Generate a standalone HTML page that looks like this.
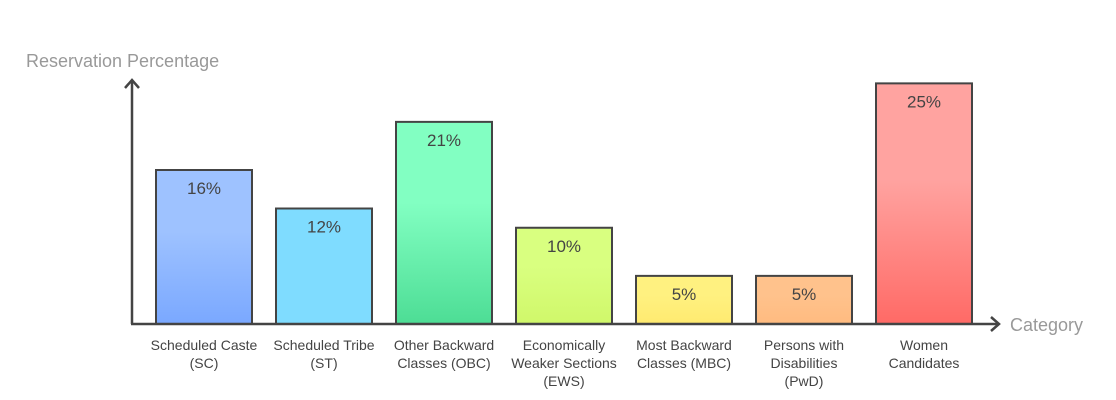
<!DOCTYPE html>
<html><head><meta charset="utf-8"><style>
body{margin:0;background:#fff;width:1116px;height:400px;overflow:hidden}
svg{display:block;font-family:"Liberation Sans",sans-serif}
</style></head><body>
<svg id="chart" width="1116" height="400">
<defs id="defs"></defs>
<text x="26" y="67" font-size="18" fill="#999">Reservation Percentage</text>
<text x="1010" y="331" font-size="18" fill="#999">Category</text>
<g id="bars"></g>
<line x1="132" y1="324" x2="132" y2="80" stroke="#444" stroke-width="2.5"/>
<path d="M125,88 L132,80 L139,88" fill="none" stroke="#444" stroke-width="2.5"/>
<line x1="131" y1="324" x2="999" y2="324" stroke="#444" stroke-width="2.5"/>
<path d="M991,317 L999,324 L991,331" fill="none" stroke="#444" stroke-width="2.5"/>
</svg>
<script>
const categories=[["Scheduled Caste","(SC)"],["Scheduled Tribe","(ST)"],["Other Backward","Classes (OBC)"],["Economically","Weaker Sections","(EWS)"],["Most Backward","Classes (MBC)"],["Persons with","Disabilities","(PwD)"],["Women","Candidates"]];
const values=[16,12,21,10,5,5,25];
const labels=["16%","12%","21%","10%","5%","5%","25%"];
const topColors=["#9ec2ff","#7fdcff","#82ffc2","#d9ff80","#fff180","#ffc28c","#ffa3a0"];
const botColors=["#7aa8ff","#7fdcff","#4ddd95","#d0f76a","#ffea70","#ffbb80","#ff6a66"];
const NS="http://www.w3.org/2000/svg";
const base=324,perUnit=9.625,x0=156,step=120,bw=96;
const xPos=i=>x0+i*step;
const yPos=v=>base-v*perUnit;
const g=document.getElementById('bars'),defs=document.getElementById('defs');
values.forEach((v,i)=>{
 const gr=document.createElementNS(NS,'linearGradient');
 gr.setAttribute('id','g'+i);gr.setAttribute('x1','0');gr.setAttribute('y1','0');gr.setAttribute('x2','0');gr.setAttribute('y2','1');
 gr.innerHTML=`<stop offset="0.4" stop-color="${topColors[i]}"/><stop offset="1" stop-color="${botColors[i]}"/>`;
 defs.appendChild(gr);
 const r=document.createElementNS(NS,'rect');
 
 
 r.setAttribute('x',xPos(i));r.setAttribute('y',yPos(v));r.setAttribute('width',bw);r.setAttribute('height',base-yPos(v));
 r.setAttribute('fill','url(#g'+i+')');r.setAttribute('stroke','#444');r.setAttribute('stroke-width','2');
 g.appendChild(r);
 const t=document.createElementNS(NS,'text');
 
 
 t.setAttribute('x',xPos(i)+bw/2);t.setAttribute('y',yPos(v)+24);t.setAttribute('text-anchor','middle');
 t.setAttribute('font-size','17');t.setAttribute('fill','#444');t.textContent=labels[i];
 g.appendChild(t);
 categories[i].forEach((line,j)=>{
  const c=document.createElementNS(NS,'text');
  
  
  c.setAttribute('x',xPos(i)+bw/2);c.setAttribute('y',350+j*18);c.setAttribute('text-anchor','middle');
  c.setAttribute('font-size','14');c.setAttribute('fill','#444');c.textContent=line;
  g.appendChild(c);
 });
});
</script>
</body></html>
